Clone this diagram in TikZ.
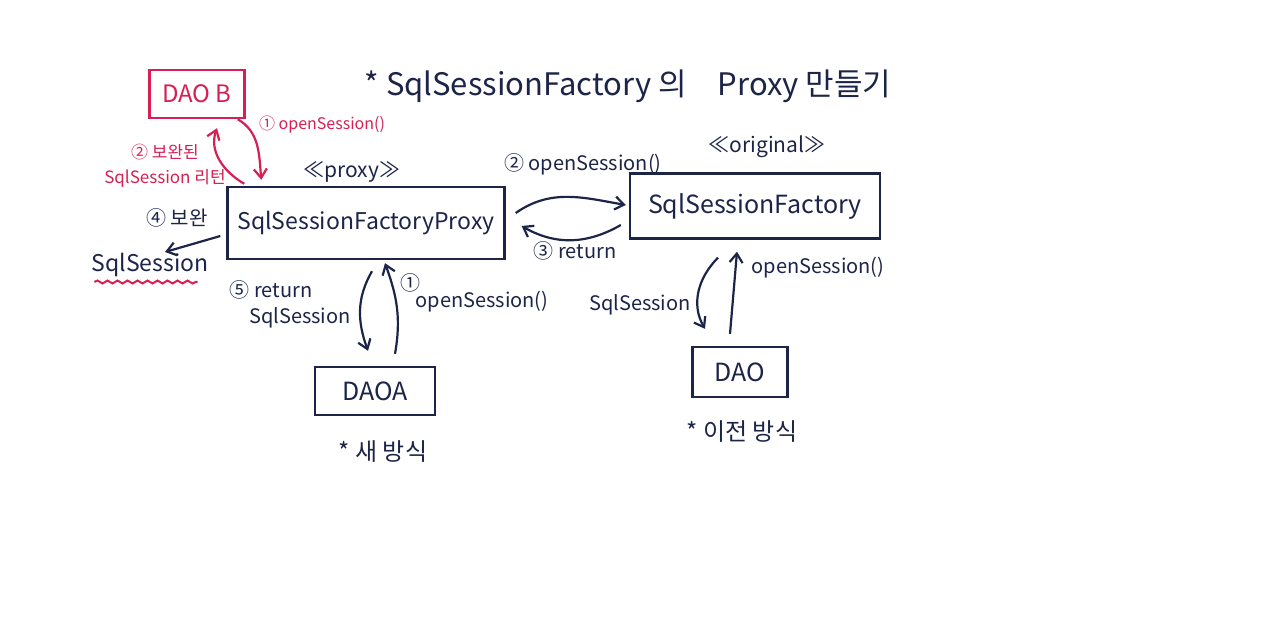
\documentclass[tikz,border=0pt]{standalone}
\usepackage{fontspec}
\setmainfont{Noto Sans CJK KR}
\usetikzlibrary{arrows.meta,positioning,calc,decorations.pathmorphing}
\definecolor{ink}{RGB}{28,36,72}
\definecolor{pen}{RGB}{214,32,84}
\newcommand{\penfs}[1]{\fontsize{#1}{#1}\selectfont}
\tikzset{
  box/.style={draw=ink,line width=2.4pt,text=ink,inner sep=0pt},
  redbox/.style={box,draw=pen,text=pen},
  lbl/.style={text=ink,inner sep=1pt,font=\penfs{20}},
  tag/.style={lbl,font=\penfs{21}},
  note/.style={lbl,font=\penfs{24}},
  rlbl/.style={lbl,text=pen,font=\penfs{16}},
  arr/.style={-{Straight Barb[length=9pt,width=13pt]},line width=2.2pt,ink},
  rarr/.style={arr,pen},
  wavy/.style={pen,line width=2pt,decorate,
    decoration={snake,amplitude=1.5pt,segment length=10pt}},
}

\begin{document}
\begin{tikzpicture}[x=1pt,y=1pt]
  \useasboundingbox (0,0) rectangle (1280,-635);

  \node[text=ink,font=\penfs{31}] (title) at (628,-86)
    {* SqlSessionFactory 의\quad Proxy 만들기};

  % boxes
  \node[redbox,minimum width=95pt,minimum height=48pt,font=\penfs{24}] (daob) at (197,-94) {DAO B};
  \node[box,minimum width=277pt,minimum height=72pt,font=\penfs{23}] (proxy) at (366,-223) {SqlSessionFactoryProxy};
  \node[tag,above=2pt of proxy,xshift=-14pt] (proxytag) {≪proxy≫};
  \node[box,minimum width=250pt,minimum height=65pt,font=\penfs{25}] (factory) at (755,-206) {SqlSessionFactory};
  \node[tag] (origtag) at (767,-147) {≪original≫};
  \node[box,minimum width=120pt,minimum height=48pt,font=\penfs{25}] (daoa) at (375,-391) {DAOA};
  \node[note] (newway) at (383,-452) {* 새 방식};
  \node[box,minimum width=95pt,minimum height=50pt,font=\penfs{25}] (dao) at (740,-372) {DAO};
  \node[note] (oldway) at (742,-432) {* 이전 방식};

  % DAO B side
  \node[rlbl] (open1r) at (322,-125) {① openSession()};
  \node[rlbl,font=\penfs{17},align=center] (ret2r) at (165,-166) {② 보완된\\[8pt]SqlSession 리턴};
  \draw[rarr] ([xshift=-8pt]daob.south east) to[out=-30,in=95] ([xshift=35pt,yshift=6pt]proxy.north west);
  \draw[rarr] ([xshift=18pt,yshift=2pt]proxy.north west) to[out=150,in=-110] ([xshift=20pt,yshift=-9pt]daob.south);

  \node[lbl] (enh4) at (177,-218) {④ 보완};
  \node[lbl,font=\penfs{23}] (sess) at (150,-265) {SqlSession};
  \draw[arr] ([xshift=-6pt,yshift=-13pt]proxy.west) -- ($(sess.north)+(15,0)$);
  \draw[wavy] ([xshift=4pt,yshift=-4pt]sess.south west) -- ([xshift=-12pt,yshift=-4pt]sess.south east);

  % proxy <-> factory
  \node[lbl] (open2) at (583,-164) {② openSession()};
  \node[lbl] (ret3) at (575,-251) {③ return};
  \draw[arr] ([xshift=10pt,yshift=10pt]proxy.east) to[out=35,in=170] ([xshift=-3pt,yshift=1pt]factory.west);
  \draw[arr] ([xshift=-8pt,yshift=-19pt]factory.west) to[out=-150,in=-30] ([xshift=16pt,yshift=-3pt]proxy.east);

  % DAOA <-> proxy
  \node[lbl] (ret5) at (271,-290) {⑤ return};
  \node[lbl] (sess5) at (300,-318) {SqlSession};
  \node[lbl] (num1) at (410,-283) {①};
  \node[lbl] (open1) at (482,-302) {openSession()};
  \draw[arr] ([xshift=20pt,yshift=12pt]daoa.north) to[out=80,in=-70] ([xshift=19pt,yshift=-3pt]proxy.south);
  \draw[arr] ([xshift=6pt,yshift=-11pt]proxy.south) to[out=-120,in=110] ([xshift=-7pt,yshift=15pt]daoa.north);

  % DAO <-> factory
  \node[lbl] (open0) at (818,-268) {openSession()};
  \node[lbl] (sess0) at (640,-305) {SqlSession};
  \draw[arr] ([xshift=-10pt,yshift=12pt]dao.north) -- ([xshift=-18pt,yshift=-12pt]factory.south);
  \draw[arr] ([xshift=-37pt,yshift=-18pt]factory.south) to[out=-135,in=120] ([xshift=-35pt,yshift=17pt]dao.north);
\end{tikzpicture}
\end{document}
